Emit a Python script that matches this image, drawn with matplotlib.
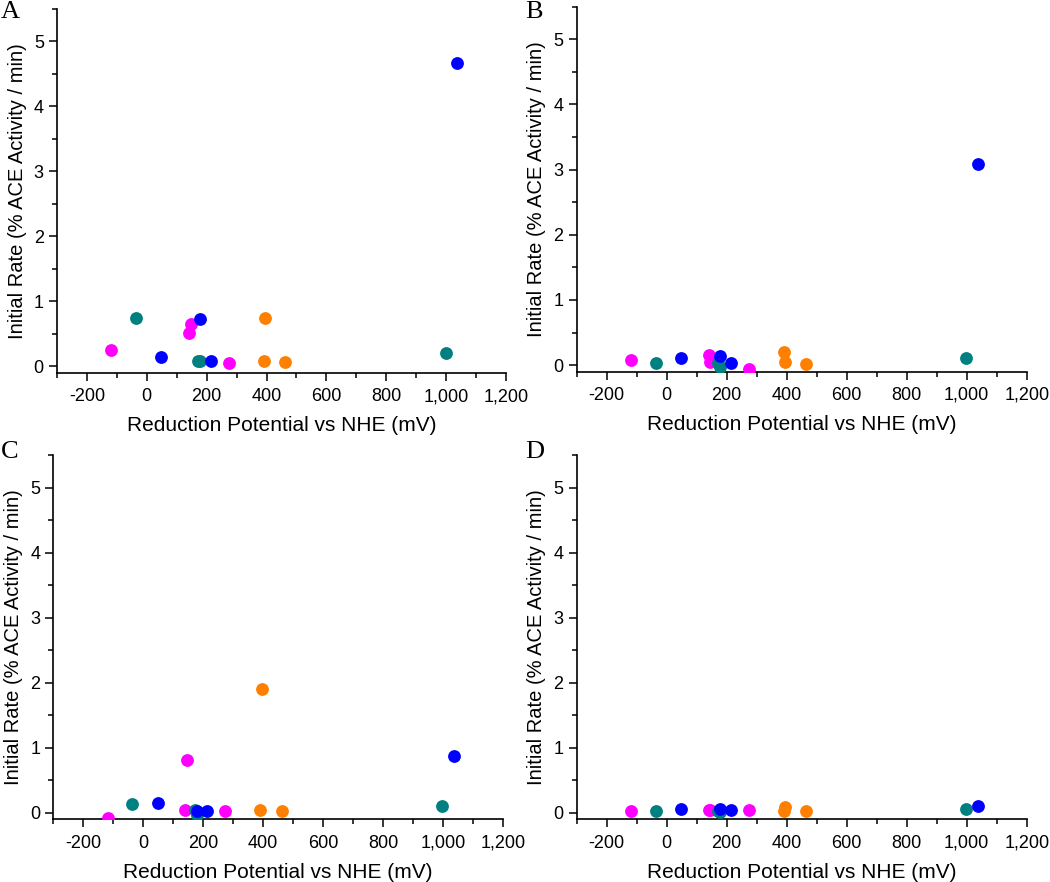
import matplotlib
matplotlib.use("Agg")
import matplotlib.pyplot as plt
from matplotlib.ticker import MultipleLocator, FuncFormatter

plt.rcParams['font.family'] = ['Liberation Sans', 'DejaVu Sans']

# Reduction potentials (mV vs NHE), grouped by colour
x_magenta = [-119, 141, 146, 273]
x_teal = [-36, 172, 178, 998]
x_blue = [48, 179, 214, 1037]
x_orange = [390, 396, 463]

# Initial rates (% ACE activity / min) per panel
panel_labels = ['A', 'B', 'C', 'D']
y_magenta = [
    [0.25, 0.51, 0.65, 0.05],
    [0.08, 0.16, 0.05, -0.06],
    [-0.08, 0.05, 0.81, 0.02],
    [0.03, 0.05, 0.05, 0.05],
]
y_teal = [
    [0.75, 0.09, 0.08, 0.21],
    [0.03, 0.04, -0.03, 0.11],
    [0.14, 0.05, -0.03, 0.10],
    [0.02, 0.02, 0.01, 0.06],
]
y_blue = [
    [0.14, 0.73, 0.08, 4.67],
    [0.11, 0.14, 0.04, 3.08],
    [0.15, 0.03, 0.02, 0.87],
    [0.06, 0.06, 0.04, 0.10],
]
y_orange = [
    [0.08, 0.75, 0.07],
    [0.20, 0.05, 0.02],
    [0.04, 1.90, 0.02],
    [0.03, 0.09, 0.03],
]

colors = {'magenta': '#FF00FF', 'teal': '#008080', 'blue': '#0000FF', 'orange': '#FF7F00'}

# axes positions in figure fractions [left, bottom, width, height]
positions = [
    [0.0543, 0.5771, 0.4276, 0.4127],
    [0.5492, 0.5786, 0.4286, 0.4138],
    [0.0508, 0.0711, 0.4281, 0.4130],
    [0.5492, 0.0711, 0.4286, 0.4130],
]
letter_pos = [(0.001, 0.999), (0.500, 0.999), (0.001, 0.500), (0.500, 0.500)]

fig = plt.figure(figsize=(10.5, 8.82), dpi=100)

for i in range(4):
    ax = fig.add_axes(positions[i])
    ax.scatter(x_magenta, y_magenta[i], s=85, color=colors['magenta'], zorder=3, linewidths=0)
    ax.scatter(x_teal, y_teal[i], s=85, color=colors['teal'], zorder=3, linewidths=0)
    ax.scatter(x_blue, y_blue[i], s=85, color=colors['blue'], zorder=3, linewidths=0)
    ax.scatter(x_orange, y_orange[i], s=85, color=colors['orange'], zorder=3, linewidths=0)

    ax.set_xlim(-300, 1200)
    ax.set_ylim(-0.1, 5.5)
    ax.spines['top'].set_visible(False)
    ax.spines['right'].set_visible(False)
    ax.spines['left'].set_linewidth(1.2)
    ax.spines['bottom'].set_linewidth(1.2)

    ax.xaxis.set_major_locator(MultipleLocator(200))
    ax.xaxis.set_minor_locator(MultipleLocator(100))
    ax.yaxis.set_major_locator(MultipleLocator(1))
    ax.yaxis.set_minor_locator(MultipleLocator(0.5))
    ax.xaxis.set_major_formatter(FuncFormatter(lambda v, p: f"{int(v):,}"))
    ax.set_yticks([0, 1, 2, 3, 4, 5])
    ax.tick_params(which='major', direction='out', length=6, width=1.1, labelsize=13)
    ax.tick_params(which='minor', direction='out', length=3.5, width=1.1)
    ax.tick_params(axis='x', which='major', pad=5)

    ax.set_xlabel('Reduction Potential vs NHE (mV)', fontsize=15, labelpad=8)
    ax.set_ylabel('Initial Rate (% ACE Activity / min)', fontsize=14.5, labelpad=5)

    fig.text(letter_pos[i][0], letter_pos[i][1], panel_labels[i], family='Liberation Serif',
             fontsize=19, ha='left', va='top')

fig.savefig('out.png', dpi=100)
